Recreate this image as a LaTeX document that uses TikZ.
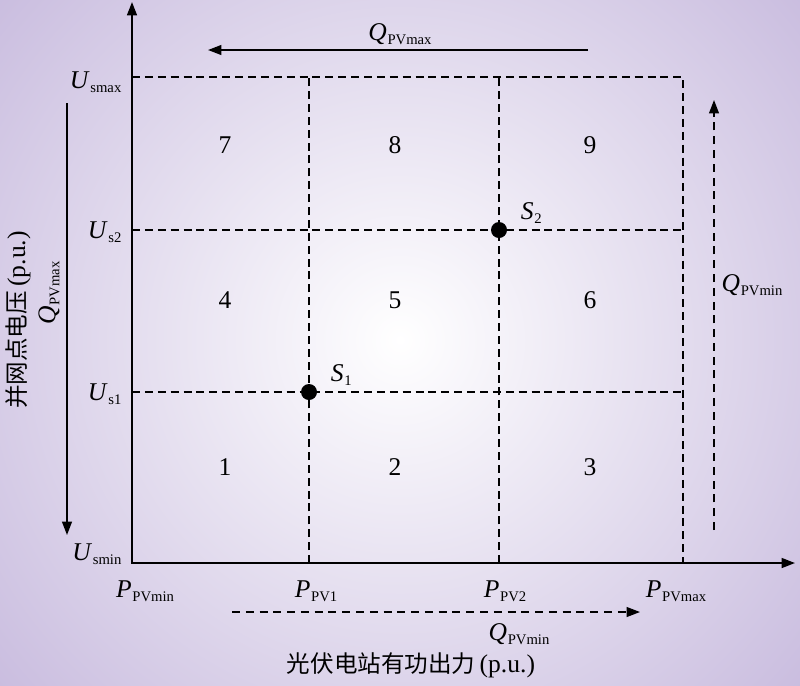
\documentclass[tikz,border=0pt]{standalone}
\usepackage{fontspec}
\setmainfont{Liberation Serif}
\newfontfamily\cjk{Noto Sans CJK SC}
\usetikzlibrary{arrows.meta,positioning,calc}
\definecolor{cBg}{RGB}{188,172,215}
\newcommand\symsub[2]{\textit{#1}\kern0.3pt\raisebox{-1.8pt}{\fontsize{6.6}{7}\selectfont #2}}

\begin{document}
\begin{tikzpicture}[
  x=0.45pt,y=-0.45pt,
  ax/.style={{Triangle[length=6pt,width=4.4pt]}-{Triangle[length=6pt,width=4.4pt]},
             line width=0.9pt},
  gl/.style={dash pattern=on 3.6pt off 2.2pt,line width=0.65pt},
  fl/.style={-{Triangle[length=6pt,width=4.4pt]},line width=0.75pt},
  dfl/.style={fl,dash pattern=on 3.6pt off 2.6pt},
  lb/.style={font=\fontsize{11.5}{13}\selectfont,inner sep=1pt},
  pt/.style={circle,fill=black,inner sep=0pt,minimum size=7.2pt},
  ]
  % background
  \useasboundingbox (0,0) rectangle (800,685);
  \begin{scope}
    \clip (0,0) rectangle (800,685);
    \fill[cBg] (0,0) rectangle (800,685);
    \shade[inner color=white,outer color=cBg] (400,340) circle (300pt);
  \end{scope}

  % axes and grid
  \coordinate (O) at (132,563);
  \coordinate (Ytip) at (132,2);
  \coordinate (Xtip) at (795,563);
  \coordinate (P1) at (309,563);
  \coordinate (P2) at (499,563);
  \coordinate (Pm) at (683,563);
  \coordinate (Um) at (132,77);
  \coordinate (U2) at (132,230);
  \coordinate (U1) at (132,392);

  \draw[gl] (Um) -| (Pm);
  \draw[gl] (U2) -- (U2 -| Pm);
  \draw[gl] (U1) -- (U1 -| Pm);
  \draw[gl] (P1) -- (P1 |- Um);
  \draw[gl] (P2) -- (P2 |- Um);
  \draw[ax] (Ytip) -- (O) -- (Xtip);

  % operating points
  \node[pt] (S1) at (P1 |- U1) {};
  \node[pt] (S2) at (P2 |- U2) {};
  \node[lb,above right=-1pt and 6pt of S1] (s1lab) {\symsub{S}{1}};
  \node[lb,above right=-1pt and 6pt of S2] (s2lab) {\symsub{S}{2}};

  % regions
  \node[lb] (c1) at (225,467) {1};
  \node[lb] (c2) at (395,467) {2};
  \node[lb] (c3) at (590,467) {3};
  \node[lb] (c4) at (225,300) {4};
  \node[lb] (c5) at (395,300) {5};
  \node[lb] (c6) at (590,300) {6};
  \node[lb] (c7) at (225,145) {7};
  \node[lb] (c8) at (395,145) {8};
  \node[lb] (c9) at (590,145) {9};

  % tick labels
  \node[lb,anchor=east] (umax) at (124,82) {\symsub{U}{smax}};
  \node[lb,anchor=east] (us2) at (124,232) {\symsub{U}{s2}};
  \node[lb,anchor=east] (us1) at (124,394) {\symsub{U}{s1}};
  \node[lb,anchor=east] (umin) at (124,554) {\symsub{U}{smin}};
  \node[lb] (pmin) at (145,591) {\symsub{P}{PVmin}};
  \node[lb] (pv1) at (316,591) {\symsub{P}{PV1}};
  \node[lb] (pv2) at (505,591) {\symsub{P}{PV2}};
  \node[lb] (pmax) at (676,591) {\symsub{P}{PVmax}};

  % reactive power directions
  \coordinate (ta0) at (588,50);
  \coordinate (ta1) at (208,50);
  \draw[fl] (ta0) -- (ta1);
  \node[lb] (qtop) at (400,34) {\symsub{Q}{PVmax}};

  \coordinate (la0) at (67,103);
  \coordinate (la1) at (67,535);
  \draw[fl] (la0) -- (la1);
  \node[lb,rotate=90] (qleft) at (49,293) {\symsub{Q}{PVmax}};

  \coordinate (ra0) at (714,530);
  \coordinate (ra1) at (714,100);
  \draw[dfl] (ra0) -- (ra1);
  \node[lb,anchor=west] (qright) at (719,285) {\symsub{Q}{PVmin}};

  \coordinate (ba0) at (232,612);
  \coordinate (ba1) at (640,612);
  \draw[dfl] (ba0) -- (ba1);
  \node[lb] (qbot) at (519,634) {\symsub{Q}{PVmin}};

  % axis titles
  \node[lb,rotate=90] (ytitle) at (18,320)
    {{\fontsize{10.6}{12}\selectfont\cjk 并网点电压}\,(p.u.)};
  \node[lb] (xtitle) at (411,665)
    {{\fontsize{10.6}{12}\selectfont\cjk 光伏电站有功出力}\,(p.u.)};
\end{tikzpicture}
\end{document}
